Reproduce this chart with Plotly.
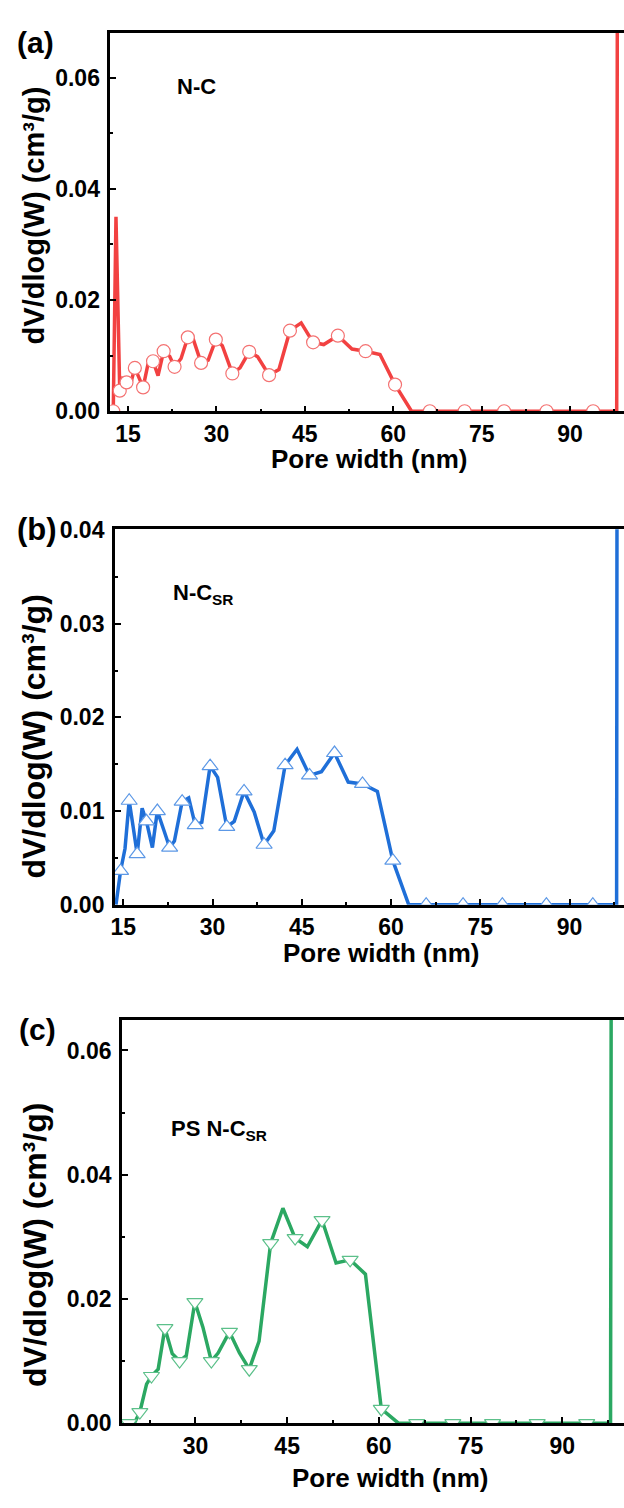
import plotly.graph_objects as go

# ---------------- data ----------------
# panel (a) N-C
a_width = [12.5, 12.96, 13.6, 14.1, 14.75, 15.4, 16.16, 16.85, 17.56, 18.4,
           19.25, 20.1, 21.05, 22.07, 22.9, 24.0, 25.15, 26.0, 27.4, 28.6,
           29.9, 31.0, 32.7, 34.0, 35.56, 37.0, 38.93, 40.6, 42.47, 44.38,
           46.4, 48.2, 50.6, 53.0, 55.3, 57.75, 60.3, 63.1, 66.2, 69.0,
           72.1, 75.4, 78.8, 82.3, 86.0, 89.9, 93.9, 97.9, 98.2]
a_dv = [0.0, 0.035, 0.0037, 0.0058, 0.0052, 0.0048, 0.0078, 0.0061, 0.0043, 0.0085,
        0.0090, 0.0064, 0.0108, 0.0099, 0.0080, 0.0095, 0.0133, 0.0132, 0.0087, 0.0092,
        0.0129, 0.0118, 0.0068, 0.0078, 0.0107, 0.0098, 0.0065, 0.0075, 0.0145, 0.0159,
        0.0124, 0.0120, 0.0136, 0.0112, 0.0108, 0.0102, 0.0048, 0.0, 0.0, 0.0,
        0.0, 0.0, 0.0, 0.0, 0.0, 0.0, 0.0, 0.0, 0.2]

# panel (b) N-C_SR
b_width = [13.78, 14.55, 15.3, 16.0, 16.67, 17.34, 18.17, 18.9, 19.9, 20.73,
           21.8, 22.8, 23.6, 24.9, 26.0, 27.1, 28.2, 29.6, 30.86, 32.4,
           33.65, 35.3, 37.0, 38.67, 40.3, 42.2, 44.2, 46.3, 48.3, 50.5,
           52.8, 55.2, 57.7, 60.3, 62.96, 65.9, 69.0, 72.1, 75.3, 78.7,
           82.3, 86.1, 89.9, 93.9, 97.9, 98.2]
b_dv = [0.0, 0.0036, 0.0060, 0.0111, 0.0083, 0.0054, 0.0103, 0.0089, 0.0061, 0.0100,
        0.0080, 0.0061, 0.0068, 0.0110, 0.0114, 0.0085, 0.0088, 0.0148, 0.0136, 0.0083,
        0.0089, 0.0121, 0.0099, 0.0064, 0.0079, 0.0149, 0.0166, 0.0138, 0.0142, 0.0162,
        0.0131, 0.0129, 0.0121, 0.0047, 0.0, 0.0, 0.0, 0.0, 0.0, 0.0,
        0.0, 0.0, 0.0, 0.0, 0.0, 0.2]

# panel (c) PS N-C_SR
c_width = [18.3, 19.1, 20.0, 20.9, 22.0, 22.8, 23.9, 25.0, 26.2, 27.4,
           28.5, 29.9, 31.2, 32.6, 33.7, 35.56, 37.2, 38.8, 40.4, 42.3,
           44.3, 46.3, 48.3, 50.7, 53.0, 55.3, 57.8, 60.4, 63.2, 66.2,
           69.0, 72.1, 75.3, 78.6, 82.2, 85.9, 89.9, 94.0, 97.9, 98.2]
c_dv = [0.0, 0.0, 0.0, 0.0018, 0.0063, 0.0076, 0.0087, 0.0153, 0.0112, 0.0100,
        0.0109, 0.0195, 0.0155, 0.0100, 0.0113, 0.0147, 0.0113, 0.0087, 0.0132, 0.0290,
        0.0346, 0.0298, 0.0284, 0.0327, 0.0258, 0.0263, 0.0240, 0.0023, 0.0, 0.0,
        0.0, 0.0, 0.0, 0.0, 0.0, 0.0, 0.0, 0.0, 0.0, 0.2]

sample_names = ["N-C", "N-C<sub>SR</sub>", "PS N-C<sub>SR</sub>"]
panel_labels = ["(a)", "(b)", "(c)"]
x_title = "Pore width (nm)"
y_title = "dV/dlog(W) (cm³/g)"

# ---------------- layout helpers ----------------
W, H = 624, 1508
FONT = "Liberation Sans, Arial, sans-serif"

def fx(p):
    return p / W

def fy(p):
    return 1 - p / H

panels = [
    dict(x=a_width, y=a_dv, color="#F24141", mcolor="#F47272", symbol="circle", msize=13,
         mstart=0, xdom=(107, 624), ydom=(21, 406), xr=(12.0, 99.14), yr=(0, 0.0681),
         dy=0.02, name_pos=(172, 76), lab=(32, 31, 30), ytit=(30, 207, 29),
         xtit=(367.5, 455)),
    dict(x=b_width, y=b_dv, color="#1F6FD8", mcolor="#5C98E6", symbol="triangle-up", msize=14,
         mstart=1, xdom=(111.5, 624), ydom=(526, 907.7), xr=(13.58, 99.14), yr=(0, 0.0401),
         dy=0.01, name_pos=(168, 592), lab=(33, 526, 31), ytit=(30, 737, 32),
         xtit=(379.5, 957)),
    dict(x=c_width, y=c_dv, color="#2BA862", mcolor="#5CC08A", symbol="triangle-down", msize=14,
         mstart=1, xdom=(118.7, 624), ydom=(1025, 1435), xr=(17.97, 100.1), yr=(0, 0.0649),
         dy=0.02, name_pos=(166, 1137), lab=(34, 1035, 30), ytit=(31, 1254, 32),
         xtit=(388.5, 1491)),
]

fig = go.Figure()
annotations = []
layout = {}

for i, p in enumerate(panels):
    n = "" if i == 0 else str(i + 1)
    xa, ya = "x" + n, "y" + n
    # line
    fig.add_trace(go.Scatter(
        x=p["x"], y=p["y"], mode="lines", xaxis=xa, yaxis=ya,
        line=dict(color=p["color"], width=3.5), showlegend=False, hoverinfo="skip"))
    # open markers on alternate points
    fig.add_trace(go.Scatter(
        x=p["x"][p["mstart"]::2], y=p["y"][p["mstart"]::2], mode="markers",
        xaxis=xa, yaxis=ya, showlegend=False,
        marker=dict(symbol=p["symbol"], size=p["msize"], color="white",
                    line=dict(color=p["mcolor"], width=1.2))))

    tickfont = dict(family=FONT, size=23, color="black", weight="bold")
    layout["xaxis" + n] = dict(
        domain=[fx(p["xdom"][0]), fx(p["xdom"][1])], anchor=ya,
        range=list(p["xr"]), tick0=0, dtick=15, ticks="inside", ticklen=6,
        tickwidth=2, tickcolor="black", showline=True, linecolor="black",
        linewidth=2.5, mirror=True, showgrid=False, zeroline=False,
        tickfont=tickfont,
        minor=dict(ticks="inside", ticklen=3, tickwidth=2, tickcolor="black",
                   dtick=7.5, tick0=0, showgrid=False))
    layout["yaxis" + n] = dict(
        domain=[fy(p["ydom"][1]), fy(p["ydom"][0])], anchor=xa,
        range=list(p["yr"]), tick0=0, dtick=p["dy"], tickformat=".2f",
        ticks="inside", ticklen=6, tickwidth=2, tickcolor="black",
        showline=True, linecolor="black", linewidth=2.5, mirror=False,
        showgrid=False, zeroline=False, tickfont=tickfont, ticklabelstandoff=3,
        minor=dict(ticks="inside", ticklen=3, tickwidth=2, tickcolor="black",
                   dtick=p["dy"] / 2, tick0=0, showgrid=False))

    # axis titles
    annotations.append(dict(
        text=x_title, xref="paper", yref="paper", x=fx(p["xtit"][0]), y=fy(p["xtit"][1]),
        xanchor="center", yanchor="middle", showarrow=False,
        font=dict(family=FONT, size=26, color="black", weight="bold")))
    annotations.append(dict(
        text=y_title, xref="paper", yref="paper", x=fx(p["ytit"][0]), y=fy(p["ytit"][1]),
        xanchor="center", yanchor="middle", textangle=-90, showarrow=False,
        font=dict(family=FONT, size=p["ytit"][2], color="black", weight="bold")))
    # panel letter and sample name
    annotations.append(dict(
        text=panel_labels[i], xref="paper", yref="paper", x=fx(p["lab"][0]),
        y=fy(p["lab"][1]), xanchor="center", yanchor="middle", showarrow=False,
        font=dict(family=FONT, size=p["lab"][2], color="black", weight="bold")))
    annotations.append(dict(
        text=sample_names[i], xref="paper", yref="paper", x=fx(p["name_pos"][0]),
        y=fy(p["name_pos"][1]), xanchor="left", yanchor="middle", showarrow=False,
        font=dict(family=FONT, size=22, color="black", weight="bold")))

fig.update_layout(
    width=W, height=H, margin=dict(l=0, r=0, t=0, b=0),
    paper_bgcolor="white", plot_bgcolor="white",
    annotations=annotations, **layout)

fig.write_html(
    "out.html",
    config={"displayModeBar": False},
    post_script="document.body.style.margin='0px';document.body.style.overflow='hidden';")
